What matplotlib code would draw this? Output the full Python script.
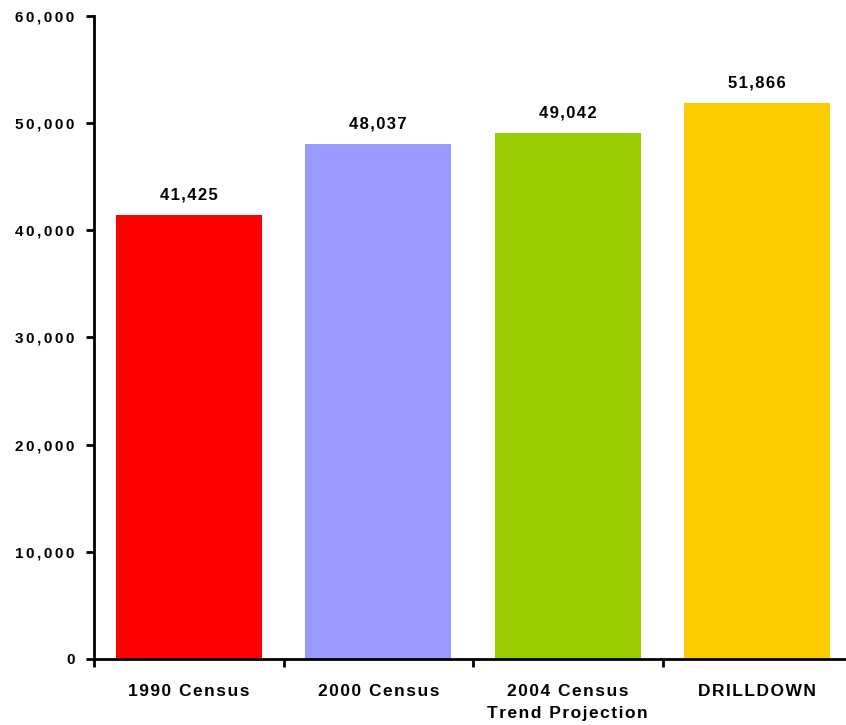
import numpy as np
import matplotlib.pyplot as plt

categories = ['1990 Census', '2000 Census', '2004 Census\nTrend Projection', 'DRILLDOWN']
values = [41425, 48037, 49042, 51866]
colors = ['#FF0000', '#9999FF', '#99CC00', '#FFCC00']
yticks = [0, 10000, 20000, 30000, 40000, 50000, 60000]

HS = '\u200a'


def spaced(s, n=1):
    return '\n'.join((HS * n).join(line) for line in s.split('\n'))


plt.rcParams['font.family'] = ['Liberation Sans', 'DejaVu Sans']
plt.rcParams['font.weight'] = 'bold'

fig = plt.figure(figsize=(8.46, 7.25), dpi=100)
ax = fig.add_axes([94 / 846, 66 / 725, 758 / 846, 643 / 725])

x = np.arange(len(values))
ax.bar(x, values, width=0.77, color=colors, zorder=2)
for xi, v in zip(x, values):
    ax.annotate(spaced(f'{v:,}'), (xi, v), xytext=(0, 9), textcoords='offset points',
                ha='center', va='bottom', fontsize=12, fontweight='bold')

ax.set_xlim(-0.5, len(values) - 0.5)
ax.set_ylim(0, 60000)
ax.set_yticks(yticks)
ax.set_yticklabels([spaced(f'{t:,}', 2) for t in yticks], fontsize=11, fontweight='bold')
ax.set_xticks(np.arange(len(values) + 1) - 0.5)
ax.set_xticklabels([])
ax.set_xticks(x, minor=True)
ax.set_xticklabels([spaced(c) for c in categories], minor=True, fontsize=12.5, fontweight='bold',
                   linespacing=1.55)
ax.tick_params(axis='x', which='minor', length=0, pad=18)
ax.tick_params(axis='x', which='major', length=6, width=2, direction='out')
ax.tick_params(axis='y', length=6, width=2, direction='out', pad=8)

for s in ['top', 'right']:
    ax.spines[s].set_visible(False)
for s in ['left', 'bottom']:
    ax.spines[s].set_linewidth(2)

fig.savefig('out.png', dpi=100)
